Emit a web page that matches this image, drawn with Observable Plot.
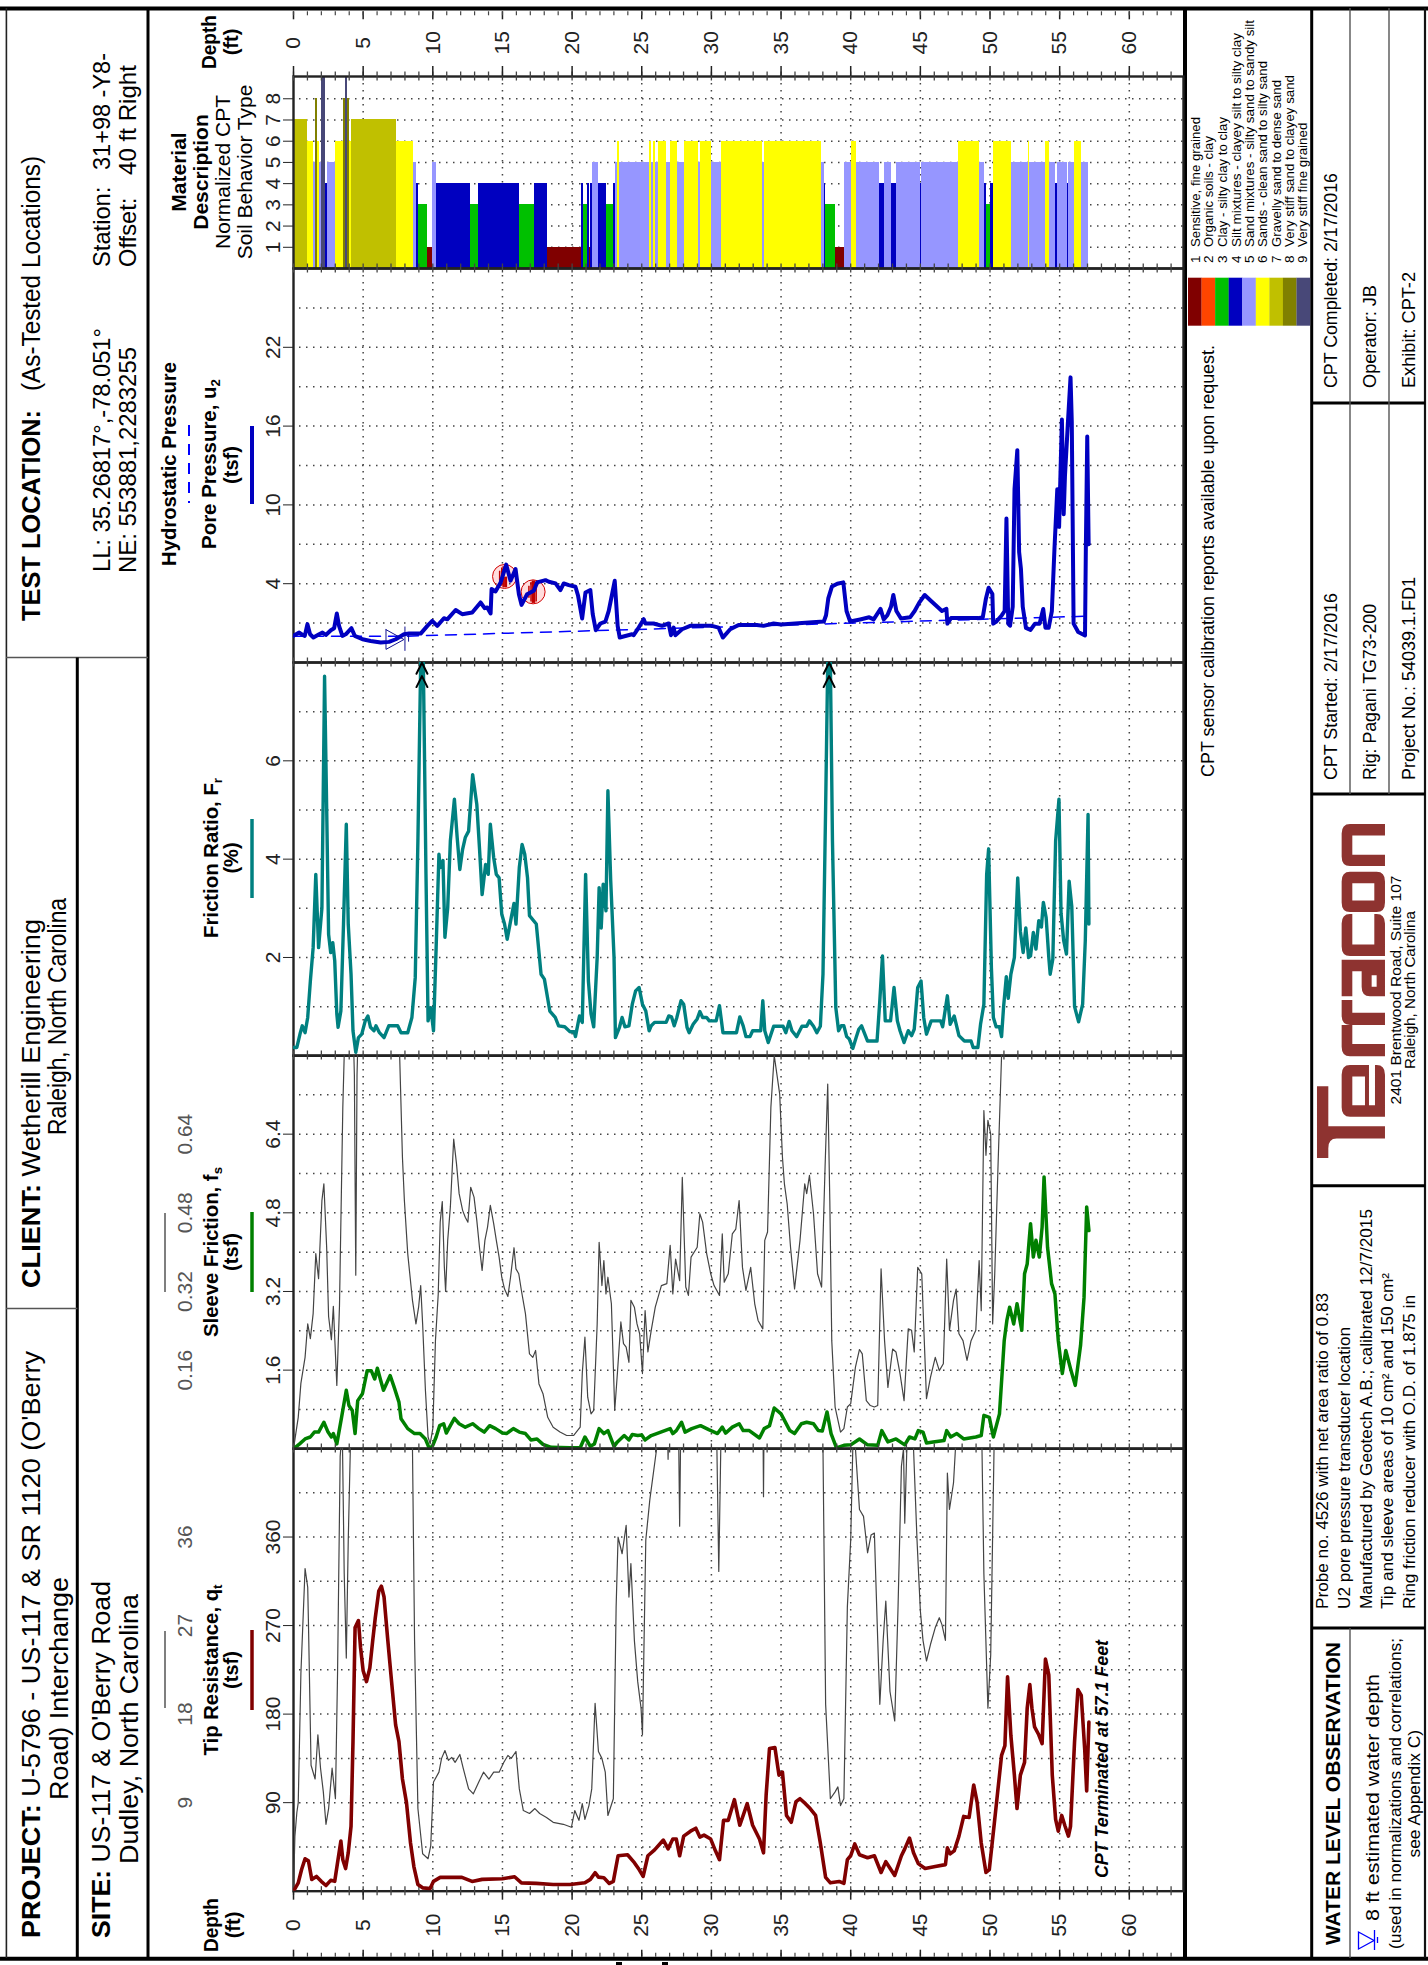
<!DOCTYPE html>
<html><head><meta charset="utf-8">
<script src="https://cdn.jsdelivr.net/npm/d3@7"></script>
<script src="https://cdn.jsdelivr.net/npm/@observablehq/plot@0.6"></script>
<style>
html,body{margin:0;padding:0;background:#fff;}
#page{position:relative;width:1428px;height:1965px;overflow:hidden;font-family:"Liberation Sans",Arial,sans-serif;}
#page svg{position:absolute;left:0;}
</style></head><body><div id="page"></div>
<script>
// ---------- DATA (depth in ft, value in chart units) ----------
const depthDomain=[0,63.89];
const depthMinor=d3.range(0,64);
const depthMajor=d3.range(0,65,5);

const sbtEnd=[1,1.46,1.58,1.74,1.84,2.03,2.29,2.46,3.03,3.61,3.75,3.89,4.04,4.18,7.41,8.63,8.84,8.98,9.63,9.99,10.23,12.71,13.29,16.22,17.3,18.23,20.67,20.81,21.1,21.24,21.31,21.46,21.89,22.46,22.96,23.11,23.25,23.39,25.54,25.69,25.83,25.97,26.19,26.76,27.05,27.55,28.05,29.06,29.2,29.99,30.7,33.64,33.79,37.89,38.11,38.18,38.9,39.54,40.04,40.4,42.05,42.41,42.91,43.27,44.99,45.06,47.71,49.22,49.58,49.72,50.01,50.25,51.51,52.73,52.85,53.95,54.24,54.67,54.88,55.53,55.67,56.03,56.6,57.1];
const sbtType=[7,6,5,8,6,5,9,4,5,6,8,9,8,6,7,6,5,4,3,1,5,4,3,4,3,4,1,4,3,4,1,4,5,4,3,4,5,6,5,6,5,6,5,6,5,6,5,6,5,6,5,6,5,6,5,4,3,1,5,6,5,4,5,4,5,4,5,6,5,4,3,4,6,5,6,5,6,5,4,5,4,5,6,5];
const sbtColors=["#800000","#ff4500","#00c000","#0000c0","#9696ff","#ffff00","#c0c000","#808000","#484878"];
const sbtLabels=["Sensitive, fine grained","Organic soils - clay","Clay - silty clay to clay","Silt mixtures - clayey silt to silty clay","Sand mixtures - silty sand to sandy silt","Sands - clean sand to silty sand","Gravelly sand to dense sand","Very stiff sand to clayey sand","Very stiff fine grained"];

const poreU2=[[0,.03],[.41,.28],[.65,.1],[.81,.03],[1,.92],[1.19,.15],[1.43,-.1],[1.84,.15],[2.08,.28],[2.32,.1],[2.68,.46],[2.92,.61],[3.11,1.73],[3.27,.79],[3.51,.03],[3.75,.15],[4.16,.61],[4.4,.03],[4.95,-.23],[5.54,-.36],[6.26,-.48],[6.86,-.43],[7.34,-.23],[7.93,.15],[8.29,.2],[9.13,.2],[9.61,.79],[9.96,1.17],[10.32,.79],[10.8,1.37],[11.04,1.29],[11.64,2],[12.11,1.68],[12.83,1.81],[13.43,2.57],[13.72,2.14],[13.91,2.19],[14.15,1.73],[14.22,3.59],[14.5,3.41],[14.86,4.07],[15.27,5.45],[15.58,4.23],[15.94,5.11],[16.18,3.2],[16.37,2.39],[16.77,3.2],[17.25,3.46],[17.49,4.1],[18.09,4.27],[18.33,4.15],[18.81,4.02],[19.16,3.51],[19.4,4.02],[19.76,3.89],[20.24,3.77],[20.43,3.08],[20.72,1.35],[20.96,3.33],[21.31,3.51],[21.48,1.68],[21.7,.46],[22.03,.97],[22.39,1.12],[22.63,1.93],[23.06,4.22],[23.27,.79],[23.42,-.1],[24.3,.15],[24.42,.08],[24.78,.66],[25.14,1.3],[25.26,.97],[25.85,.97],[26.45,.79],[26.93,.97],[27.1,.08],[27.29,.66],[27.41,.08],[27.89,.53],[28.48,.79],[29.08,.79],[30.04,.79],[30.51,.66],[30.82,-.1],[31.35,.53],[31.95,.86],[33.26,.86],[33.74,.79],[34.46,.97],[35,.9],[37.25,1.06],[38.07,1.12],[38.23,1.6],[38.39,2.88],[38.65,3.78],[39.04,4],[39.47,4.1],[39.7,1.92],[39.96,1.12],[40.68,1.28],[41.33,1.44],[41.65,1.28],[42.14,2.08],[42.37,1.28],[42.63,1.6],[42.89,2.24],[43.06,3.14],[43.28,1.92],[43.61,1.35],[44.26,1.44],[44.59,1.92],[44.92,2.56],[45.31,3.14],[45.73,2.72],[46.22,2.24],[46.55,1.92],[46.87,2.08],[46.94,.96],[47.2,1.38],[49.16,1.38],[49.48,1.44],[49.71,2.88],[49.9,3.69],[50.17,3.21],[50.23,.96],[50.46,1.12],[50.85,1.6],[51.05,1.92],[51.18,8.97],[51.31,.96],[51.44,.8],[51.63,2.24],[51.76,11.2],[51.96,14.17],[52.09,6.41],[52.22,5.13],[52.35,2.24],[52.58,.64],[52.91,.48],[53.23,.96],[53.56,.96],[53.82,2.08],[53.98,.64],[54.21,.64],[54.44,1.92],[54.63,6.73],[54.83,11.2],[54.96,8.33],[55.16,16.5],[55.29,9.29],[55.38,12.18],[55.58,16.03],[55.78,19.71],[55.87,16.35],[56,.96],[56.33,.32],[56.82,.06],[56.88,6.73],[56.98,15.2],[57.08,7]];
const hydrostatic=[[0,0],[8,0],[57.1,1.53]];
const waterTriangle=[[6.64,.5],[7.93,-.25],[6.64,-1],[6.64,.5]];
const dissipation=[[15.15,4.55],[17.2,3.38]];
const dissipationHatch=[[14.8,4.2,4.95],[14.95,3.8,5.2],[15.05,3.7,5.3],[15.12,3.7,4.5],[15.2,3.7,4.5],[15.28,3.7,4.5],[16.9,2.9,3.8],[17.05,2.6,4.1],[17.15,2.5,4.2],[17.22,2.5,4.2],[17.3,2.5,4.2],[17.42,2.6,4.1]];

const frictionRatio=[[0,.17],[.24,.17],[.49,.47],[.63,.61],[.83,.47],[1.02,.78],[1.21,1.52],[1.41,2.2],[1.6,3.69],[1.8,2.2],[2.04,3.01],[2.23,7.72],[2.38,5.05],[2.52,2.47],[2.67,2.1],[2.82,2.3],[2.96,1.93],[3.11,.85],[3.2,.58],[3.4,.91],[3.59,2.68],[3.79,4.71],[3.93,2.68],[4.13,1.66],[4.27,.51],[4.47,.07],[4.66,.37],[4.9,.44],[5.15,.71],[5.34,.81],[5.53,.58],[5.78,.51],[5.92,.61],[6.17,.47],[6.5,.37],[6.84,.61],[7.48,.61],[7.72,.47],[8.2,.47],[8.5,.78],[8.74,1.59],[8.93,4.37],[9.13,8],[9.32,8],[9.51,3.69],[9.66,.71],[9.85,.98],[10.05,.51],[10.24,2.2],[10.44,4.1],[10.53,3.83],[10.73,3.97],[10.87,2.41],[11.07,3.01],[11.26,4.37],[11.55,5.22],[11.75,4.44],[11.94,3.79],[12.14,4.2],[12.33,4.44],[12.57,4.57],[12.86,5.72],[13.16,5.11],[13.35,4.23],[13.54,3.28],[13.79,3.89],[13.98,3.69],[14.13,4.71],[14.37,4.03],[14.56,3.69],[14.76,3.62],[14.95,2.88],[15.15,2.68],[15.34,2.37],[15.63,2.81],[15.83,3.1],[15.97,2.68],[16.21,3.83],[16.41,4.3],[16.6,4.1],[16.8,3.62],[16.94,2.85],[17.43,2.68],[17.77,1.66],[18.01,1.56],[18.4,.91],[18.79,.78],[19.03,.61],[19.47,.59],[19.85,.49],[20.15,.49],[20.24,.39],[20.53,.81],[20.73,.68],[20.97,3.69],[21.17,1.52],[21.36,.85],[21.55,.59],[21.8,2],[21.94,3.42],[22.09,2.6],[22.23,3.49],[22.43,2.95],[22.57,5.39],[22.77,3.57],[23.01,2],[23.11,.37],[23.4,.58],[23.59,.78],[23.79,.59],[24.08,.61],[24.32,1.05],[24.56,1.32],[24.81,1.39],[25.05,1.05],[25.29,.91],[25.53,.51],[25.68,.61],[25.92,.68],[26.75,.68],[26.94,.81],[27.14,.79],[27.33,.61],[27.52,.78],[27.82,1.12],[28.01,1.05],[28.25,.58],[28.4,.47],[28.69,.64],[28.98,.75],[29.17,.9],[29.37,.78],[29.66,.78],[29.85,.71],[30.34,.71],[30.58,1.02],[30.83,.47],[31.8,.47],[32.04,.79],[32.28,.61],[32.48,.39],[32.77,.39],[32.96,.51],[33.54,.51],[33.69,1.12],[33.83,.51],[34.08,.27],[34.47,.6],[35.15,.6],[35.34,.47],[35.58,.7],[35.78,.51],[36.12,.39],[36.5,.6],[36.84,.6],[37.04,.71],[37.33,.6],[37.57,.47],[37.82,.6],[38.01,1.66],[38.2,5.05],[38.35,8],[38.54,8],[38.69,4.37],[38.93,.98],[39.13,.51],[39.32,.61],[39.51,.61],[39.71,.39],[39.9,.34],[40.15,.15],[40.39,.37],[40.58,.54],[40.78,.61],[40.97,.47],[41.21,.3],[41.89,.3],[42.09,1.12],[42.28,2.03],[42.48,.71],[42.86,.71],[43.11,1.39],[43.35,.71],[43.54,.51],[43.83,.27],[44.13,.51],[44.37,.41],[44.56,.54],[44.81,1.39],[45.05,1.52],[45.24,.78],[45.44,.44],[45.78,.71],[46.46,.71],[46.6,.59],[46.94,1.22],[47.14,.64],[47.43,.81],[47.77,.41],[48.16,.3],[48.64,.3],[48.79,.17],[49.13,.17],[49.32,.64],[49.56,1.05],[49.76,3.69],[49.9,4.21],[50.1,1.79],[50.24,.78],[50.44,.59],[50.68,.59],[50.83,.39],[50.97,.98],[51.17,1.61],[51.31,1.17],[51.5,1.66],[51.75,2],[51.99,3.62],[52.18,2.53],[52.38,2.1],[52.57,2.6],[52.77,2],[52.91,2.03],[53.11,2.51],[53.3,2.17],[53.5,2.75],[53.69,2.62],[53.83,3.12],[54.03,2.81],[54.22,2],[54.32,1.66],[54.51,1.97],[54.71,4.37],[54.95,5.22],[55.1,2.9],[55.29,2.34],[55.49,2.07],[55.68,3.55],[55.87,3.04],[56.07,1],[56.36,.69],[56.65,1.05],[56.84,2.34],[57.04,4.91],[57.1,2.68]];
const offScaleDepths=[9.22,38.45];

const sleeveFs=[[0,0],[.44,.1],[.83,.2],[1.21,.24],[1.5,.34],[1.8,.34],[2.18,.54],[2.48,.34],[2.72,.24],[2.86,.31],[3.11,.1],[3.45,.64],[3.79,1.19],[3.98,.88],[4.22,.78],[4.42,.31],[4.61,.98],[4.95,1.12],[5.29,1.59],[5.58,1.59],[5.83,1.42],[6.02,1.64],[6.26,1.39],[6.46,1.19],[6.94,1.49],[7.23,1.25],[7.57,.95],[7.72,.61],[8.2,.41],[8.69,.31],[9.08,.31],[9.47,.2],[9.76,0],[10,.07],[10.24,.24],[10.49,.47],[10.78,.51],[10.97,.32],[11.26,.47],[11.55,.62],[11.89,.51],[12.33,.44],[12.86,.51],[13.3,.41],[13.69,.34],[14.08,.47],[14.51,.41],[15,.32],[15.29,.31],[15.78,.41],[16.21,.34],[16.65,.31],[17.04,.18],[17.48,.2],[17.91,.09],[18.5,.03],[19.85,.02],[20.58,.02],[20.92,.24],[21.31,.05],[21.6,.1],[21.94,.41],[22.28,.31],[22.57,.37],[23.01,.05],[23.25,.14],[23.74,.27],[24.08,.18],[24.32,.29],[24.71,.27],[25,.28],[25.24,.18],[25.68,.27],[26.17,.32],[27.04,.41],[27.23,.31],[27.48,.37],[27.86,.54],[28.11,.34],[28.59,.41],[29.22,.47],[29.81,.39],[30.44,.31],[30.78,.44],[31.02,.32],[31.5,.44],[31.99,.51],[32.28,.37],[32.72,.37],[33.45,.22],[33.79,.41],[34.17,.47],[34.51,.83],[35,.71],[35.63,.37],[35.97,.31],[36.46,.51],[36.84,.54],[37.33,.51],[37.67,.37],[37.96,.36],[38.3,.75],[38.59,.31],[38.98,.02],[39.51,.07],[40,.08],[40.63,.2],[41.21,.08],[41.94,.07],[42.23,.37],[42.67,.14],[43.25,.2],[43.88,.08],[44.22,.24],[44.61,.2],[44.85,.37],[45.19,.34],[45.44,.12],[45.92,.14],[46.7,.17],[46.89,.37],[47.18,.24],[47.62,.31],[48.11,.2],[48.98,.24],[49.37,.27],[49.56,.68],[49.95,.64],[50.24,.24],[50.68,.71],[51.02,2.2],[51.21,2.61],[51.41,2.88],[51.7,2.54],[51.94,2.95],[52.28,2.41],[52.48,3.56],[52.67,3.76],[52.91,4.58],[53.11,3.9],[53.3,4.24],[53.54,3.9],[53.74,4.51],[53.88,5.53],[54.13,4.1],[54.42,3.36],[54.66,3.15],[54.9,2.2],[55.19,1.53],[55.44,2],[55.78,1.63],[56.12,1.29],[56.5,2.1],[56.75,3.08],[56.94,4.92],[57.1,4.44]];
const sleeveFine=[[0,0],[.34,.064],[.53,.133],[.83,.186],[1.02,.254],[1.21,.224],[1.41,.275],[1.6,.397],[1.8,.346],[2.04,.505],[2.18,.539],[2.38,.41],[2.52,.269],[2.72,.222],[2.86,.29],[3.11,.129],[3.3,.29],[3.54,.695],[3.64,.8],[3.83,.87],[4.27,.87],[4.37,.76],[4.47,.353],[4.56,.76],[4.66,.87],[7.48,.87],[7.62,.8],[7.82,.593],[7.96,.505],[8.2,.397],[8.54,.302],[8.79,.254],[8.98,.288],[9.13,.332],[9.27,.254],[9.47,.119],[9.66,.024],[9.81,.01],[10,.041],[10.19,.22],[10.39,.315],[10.53,.461],[10.68,.503],[10.83,.369],[10.92,.32],[11.07,.424],[11.26,.492],[11.5,.63],[11.7,.58],[11.89,.519],[12.14,.485],[12.33,.471],[12.52,.461],[12.72,.532],[12.96,.512],[13.16,.464],[13.35,.41],[13.54,.363],[13.74,.424],[13.93,.451],[14.13,.495],[14.37,.458],[14.56,.424],[14.76,.39],[14.95,.349],[15.15,.325],[15.39,.31],[15.58,.349],[15.83,.409],[15.97,.366],[16.17,.356],[16.36,.322],[16.65,.275],[16.94,.193],[17.18,.186],[17.38,.2],[17.62,.132],[17.91,.112],[18.25,.064],[18.64,.044],[19.13,.034],[19.61,.027],[20.1,.027],[20.58,.044],[20.73,.153],[20.92,.227],[21.12,.105],[21.36,.071],[21.55,.078],[21.8,.254],[21.94,.42],[22.14,.332],[22.28,.383],[22.43,.315],[22.57,.349],[22.82,.295],[23.06,.078],[23.25,.153],[23.5,.258],[23.69,.214],[23.88,.207],[24.08,.176],[24.22,.302],[24.47,.288],[24.66,.254],[24.85,.234],[25.05,.153],[25.24,.281],[25.44,.197],[25.68,.241],[25.97,.288],[26.41,.332],[26.8,.336],[27.04,.414],[27.23,.315],[27.43,.386],[27.72,.342],[27.91,.552],[28.16,.329],[28.35,.312],[28.54,.39],[28.98,.41],[29.17,.478],[29.37,.461],[29.66,.397],[29.95,.356],[30.19,.332],[30.58,.312],[30.78,.437],[30.92,.339],[31.21,.356],[31.5,.437],[31.75,.447],[31.99,.505],[32.23,.369],[32.48,.322],[32.82,.369],[33.11,.295],[33.35,.261],[33.69,.244],[33.83,.424],[34.03,.441],[34.27,.695],[34.51,.8],[34.9,.722],[35.1,.593],[35.24,.539],[35.44,.498],[35.68,.41],[35.97,.325],[36.36,.424],[36.7,.539],[36.84,.519],[37.04,.556],[37.33,.478],[37.62,.356],[37.91,.329],[38.16,.573],[38.35,.742],[38.5,.505],[38.64,.22],[38.88,.085],[39.27,.034],[39.51,.041],[39.76,.085],[40,.092],[40.34,.166],[40.63,.202],[40.83,.193],[41.12,.098],[41.41,.088],[41.7,.085],[41.94,.088],[42.18,.366],[42.43,.22],[42.67,.125],[43.01,.203],[43.25,.197],[43.54,.153],[43.83,.098],[44.13,.244],[44.37,.241],[44.56,.197],[44.81,.369],[45.1,.356],[45.44,.102],[45.73,.146],[46.07,.186],[46.36,.159],[46.65,.173],[46.89,.386],[47.09,.241],[47.38,.302],[47.57,.325],[47.77,.234],[48.06,.22],[48.35,.18],[48.64,.22],[48.98,.241],[49.22,.383],[49.37,.281],[49.56,.688],[49.71,.597],[49.85,.668],[50.05,.64],[50.19,.254],[50.34,.356],[50.58,.58],[50.83,.8],[51.02,.87]];

const tipQt=[[0,0],[.34,8.5],[.58,22],[.83,33],[1.07,31],[1.31,12],[1.65,15],[1.99,10],[2.33,5.8],[2.67,11],[2.96,10],[3.16,29],[3.4,51],[3.54,32],[3.74,23],[3.93,39],[4.13,66],[4.27,152],[4.42,268],[4.66,275],[4.81,248],[5,224],[5.24,213],[5.48,227],[5.68,254],[5.87,278],[6.12,305],[6.31,310],[6.5,299],[6.75,258],[7.04,213],[7.33,169],[7.57,152],[7.82,114],[8.11,90],[8.4,49],[8.64,25],[8.93,6.8],[9.27,3.4],[9.81,2.7],[10.05,10],[10.53,14],[11.36,14],[12.09,14],[12.82,9.9],[13.54,12],[15,12.6],[15.87,14.7],[16.36,8.5],[17.43,7.9],[18.64,6.8],[19.85,6.8],[20.92,8.5],[21.31,12],[21.65,18.8],[21.89,14.3],[22.28,13.7],[22.67,7.9],[22.96,10],[23.3,36],[23.98,37],[24.47,29],[24.81,22],[25.1,15],[25.44,36],[25.92,42],[26.55,52],[26.89,43],[27.23,53],[27.48,53],[27.72,36],[28.01,56],[28.5,61],[28.88,64],[29.17,55],[29.47,57],[29.95,53],[30.29,41],[30.58,32],[30.87,72],[31.21,72],[31.65,93],[32.04,67],[32.57,89],[32.96,67],[33.45,53],[33.74,39],[33.93,98],[34.17,145],[34.56,146],[34.85,118],[35.1,121],[35.39,77],[35.73,70],[36.07,91],[36.36,94],[36.75,89],[37.09,84],[37.48,77],[37.82,49],[38.2,14],[38.54,8.5],[39.17,9.9],[39.51,7.9],[39.76,32],[40,36],[40.29,48],[40.63,37],[41.21,34],[41.7,36],[42.18,19],[42.52,30],[43.16,16],[43.64,36],[43.88,43],[44.22,54],[44.51,39],[44.85,28],[45.34,23],[46.07,25],[46.8,27],[46.94,44],[47.14,38],[47.43,41],[47.77,56],[48.11,76],[48.5,75],[48.83,108],[49.08,90],[49.37,49],[49.71,19],[49.95,22],[50.34,73],[50.68,118],[50.83,138],[51.07,148],[51.26,218],[51.5,158],[51.75,118],[51.94,84],[52.18,118],[52.48,131],[52.67,186],[52.86,210],[53.01,186],[53.2,167],[53.5,159],[53.74,150],[53.98,236],[54.22,220],[54.47,118],[54.71,73],[54.9,61],[55.15,77],[55.39,66],[55.63,56],[55.78,66],[56.07,152],[56.31,205],[56.55,199],[56.8,144],[56.94,102],[57.1,172]];
const tipFine=[[0,0],[.1,5.6],[.24,8],[.34,9],[.53,22.1],[.83,32.8],[1.02,30.9],[1.07,27.5],[1.26,12.8],[1.55,11.4],[1.75,15.9],[1.94,12.5],[2.14,10.1],[2.33,6.8],[2.52,8.4],[2.77,12.5],[3.01,9.4],[3.16,22],[3.35,44.2],[3.5,47],[3.64,32.3],[3.79,23.7],[3.93,35.7],[4.08,45],[4.22,50],[8.45,50],[8.54,45],[8.69,25.5],[8.93,8.4],[9.27,3.8],[9.66,3.3],[9.85,4.6],[10.05,11.1],[10.44,12.1],[10.63,13.5],[10.87,14.3],[11.12,13.3],[11.36,13.6],[11.6,13.1],[11.94,13.9],[12.18,12.5],[12.57,10.4],[12.91,9.9],[13.3,11.1],[13.64,12.1],[14.03,11.4],[14.37,12.1],[14.76,12.1],[15.1,13.1],[15.39,13.8],[15.63,13.5],[15.97,14.2],[16.21,10.4],[16.5,8.2],[16.94,7.9],[17.33,8.4],[17.67,7.9],[18.16,7.5],[18.64,7],[19.37,6.8],[19.95,6.5],[20.19,8.2],[20.49,7.2],[20.73,8.9],[20.92,7.3],[21.21,8.7],[21.41,10.4],[21.65,19.1],[21.89,14.2],[22.14,13.5],[22.38,12.1],[22.57,7.7],[22.96,9.4],[23.16,28.9],[23.3,36],[23.59,34.3],[23.88,37.2],[24.08,29.9],[24.22,33.3],[24.47,25.5],[24.71,21.3],[24.95,18.6],[25.05,15.9],[25.29,35.7],[25.58,39.8],[26.07,45],[26.41,50],[26.8,50],[26.89,43.9],[26.99,50],[27.62,50],[27.72,37.1],[27.82,50],[30.34,50],[30.53,32.5],[30.73,50],[33.69,50],[33.74,40.1],[33.79,50],[37.91,50],[38.01,45],[38.2,19],[38.54,9.4],[38.88,10.1],[39.08,10.6],[39.27,8.7],[39.51,9.4],[39.76,28.9],[40,35.7],[40.15,45],[40.25,50],[40.34,45],[40.63,38.8],[40.92,38.1],[41.21,34.4],[41.46,36.2],[41.7,36.4],[41.94,25.5],[42.09,19],[42.33,25.5],[42.52,29.5],[42.82,20.3],[43.16,17.3],[43.4,29],[43.64,43.2],[43.79,45],[43.88,37.4],[44.03,45],[44.1,50],[44.4,50],[44.51,45],[44.76,35.7],[45,28.5],[45.19,25.5],[45.44,23.4],[45.73,25.1],[46.07,26.8],[46.36,27.8],[46.55,27.1],[46.8,25.5],[46.94,42.5],[47.09,38.8],[47.38,41.5],[47.52,45],[47.6,50],[49.37,50],[49.56,32.3],[49.85,18.6],[50.05,24],[50.29,45],[50.44,50]];

// ---------- helpers ----------
const page=d3.select("#page");
const font='"Liberation Sans",Arial,sans-serif';
const W=1428, LEFT=293, RIGHT=1183;
const GRID="#444", TICK="#444";

// overlay with the sheet's frame and title-block text (all rotated -90 like the original)
const ov=page.append("svg").attr("width",W).attr("height",1965).style("top","0").style("font-family",font);
function L(x1,y1,x2,y2,w,c="#000",dash){const l=ov.append("line").attr("x1",x1).attr("y1",y1).attr("x2",x2).attr("y2",y2).attr("stroke",c).attr("stroke-width",w);if(dash)l.attr("stroke-dasharray",dash);return l;}
function T(parts,x,y,size,o={}){
  const t=ov.append("text").attr("transform",`translate(${x},${y}) rotate(-90)`).attr("font-size",size).attr("fill",o.fill||"#000").attr("text-anchor",o.anchor||"start");
  if(o.bold)t.attr("font-weight","bold"); if(o.italic)t.attr("font-style","italic");
  if(o.len)t.attr("textLength",o.len).attr("lengthAdjust","spacingAndGlyphs");
  (Array.isArray(parts)?parts:[[parts,{}]]).forEach(([s,p])=>{
    const ts=t.append("tspan").text(s);
    if(p.bold)ts.attr("font-weight","bold"); if(p.normal)ts.attr("font-weight","normal");
    if(p.dy)ts.attr("dy",p.dy); if(p.size)ts.attr("font-size",p.size);
  });
  return t;
}
// frame
L(0,8.4,W,8.4,4); L(0,1958.7,W,1958.7,4);
L(6.4,8,6.4,1958,1.6,"#222"); L(148,8,148,1958,3); L(1185,8,1185,1958,4); L(1311.7,8,1311.7,1958,3); L(1425,8,1425,1958,2.2,"#111");
L(6,657.5,148,657.5,1.4,"#555"); L(77.3,657.5,77.3,1958,3); L(6,1308.5,77.3,1308.5,1.4,"#555");
L(1312,403,1425,403,3); L(1312,794,1425,794,3); L(1312,1185.7,1425,1185.7,3); L(1312,1628,1425,1628,3);
L(1350,8,1350,794,1.4,"#555"); L(1389,8,1389,794,1.4,"#555"); L(1350,1628,1350,1958,1.4,"#555");
ov.append("rect").attr("x",616).attr("y",1962).attr("width",6).attr("height",3);
ov.append("rect").attr("x",662).attr("y",1962).attr("width",6).attr("height",3);

// left title block
T("TEST LOCATION:",40,621,25.4,{bold:1,len:211});
T("(As-Tested Locations)",40,391,25.4,{len:235});
T("LL: 35.26817°,-78.051°",110,572,23.7,{len:244});
T("NE: 553881,2283255",136,573,23.7,{len:226});
T("Station:",110,267,23.7); T("31+98 -Y8-",110,170,23.7,{len:117});
T("Offset:",136,267,23.7); T("40 ft Right",136,175,23.7,{len:110});
T([["CLIENT:",{bold:1}],[" Wetherill Engineering",{}]],40,1288,25,{len:369});
T("Raleigh, North Carolina",66,1135,25,{len:237});
T([["PROJECT:",{bold:1}],[" U-5796 - US-117 & SR 1120 (O'Berry",{}]],40,1938,25.4,{len:587});
T("Road) Interchange",68,1800,25.4,{len:223});
T([["SITE:",{bold:1}],[" US-117 & O'Berry Road",{}]],110,1938,25.4,{len:357});
T("Dudley, North Carolina",138,1864,25.4,{len:270});

// panel titles
T("Depth",216,42,20,{bold:1,anchor:"middle",len:54}); T("(ft)",238,42,20,{bold:1,anchor:"middle"});
T("Material",186,172,21,{bold:1,anchor:"middle"}); T("Description",208,172,21,{bold:1,anchor:"middle"});
T("Normalized CPT",230,172,21,{anchor:"middle"}); T("Soil Behavior Type",252,172,21,{anchor:"middle"});
T("Hydrostatic Pressure",176,464,20,{bold:1,anchor:"middle",len:204});
L(189,425,189,503,2,"#0000ff","11 8");
T([["Pore Pressure, u",{}],["2",{dy:4,size:13}]],216,464,20,{bold:1,anchor:"middle",len:170});
T("(tsf)",238,465,20,{bold:1,anchor:"middle"});
L(252,426,252,504,4,"#0000c0");
T([["Friction Ratio, F",{}],["r",{dy:4,size:13}]],218,858,20,{bold:1,anchor:"middle",len:160});
T("(%)",238,858,20,{bold:1,anchor:"middle"});
L(252,819,252,898,3.5,"#008080");
T([["Sleeve Friction, f",{}],["s",{dy:4,size:13}]],218,1252,20,{bold:1,anchor:"middle",len:170});
T("(tsf)",238,1252,20,{bold:1,anchor:"middle"});
L(252,1212,252,1292,3.5,"#008000"); L(165,1213,165,1292,1.5,"#555");
T([["Tip Resistance, q",{}],["t",{dy:4,size:13}]],218,1670,20,{bold:1,anchor:"middle",len:171});
T("(tsf)",238,1670,20,{bold:1,anchor:"middle"});
L(252,1630,252,1710,3.5,"#800000"); L(165,1631,165,1708,1.5,"#555");
T("Depth",218,1925,20,{bold:1,anchor:"middle",len:54}); T("(ft)",240,1925,20,{bold:1,anchor:"middle"});
T("CPT Terminated at 57.1 Feet",1108,1878,17.5,{bold:1,italic:1,len:238});

// right side
T("CPT sensor calibration reports available upon request.",1214,777,18,{len:432});
sbtColors.forEach((c,i)=>ov.append("rect").attr("x",1188+i*13.56).attr("y",277.7).attr("width",13.7).attr("height",48).attr("fill",c));
const legendBase=[1200,1213.3,1226.7,1240.7,1254,1267,1280.7,1294,1307];
const legendEnd=[117,136,117,33,20,61,80,75,122.7];
sbtLabels.forEach((s,i)=>{T(String(i+1),legendBase[i],263,13.5);T(s,legendBase[i],247,13.5,{len:247-legendEnd[i]});});
T("CPT Completed: 2/17/2016",1337,388,18.5,{len:215});
T("Operator: JB",1376,388,18.5,{len:103});
T("Exhibit: CPT-2",1415,388,18.5,{len:116});
T("CPT Started: 2/17/2016",1337,780,18.5,{len:187});
T("Rig: Pagani TG73-200",1376,780,18.5,{len:176});
T("Project No.:  54039.1.FD1",1415,780,18.5,{len:203});

// Terracon logo, drawn in the title block
const lg=ov.append("g").attr("transform","translate(1170,780) scale(0.3333,0.3827)").attr("fill","#8e3330").attr("fill-rule","evenodd");
lg.append("path").attr("d",[
 "M441 800H475V905H645V937H500Q475 937 475 962V988H441Z",
 "M645 880H540Q515 880 515 855V770Q515 745 540 745H620Q645 745 645 770V880Z M547 850H585V775H547Z M597 850H615V745H597Z",
 "M645 722H540Q515 722 515 697V640H547V690H645Z",
 "M645 640H540Q515 640 515 615V575H547V608H645Z",
 "M515 470V565H547V500H645V470Z M575 500H645V565H600Q575 565 575 540Z M605 510H620V540H605Z",
 "M645 460H540Q515 460 515 435V375Q515 350 540 350H547V430H613V350H620Q645 350 645 375Z",
 "M540 240H620Q645 240 645 265V320Q645 345 620 345H540Q515 345 515 320V265Q515 240 540 240ZM547 270V315H613V270Z",
 "M645 225H540Q515 225 515 200V140Q515 115 540 115H645V145H547V195H645Z"
].join(" "));
T("2401 Brentwood Road, Suite 107",1400.7,1104.5,15.5,{len:229});
T("Raleigh, North Carolina",1415,1069,15.5,{len:158});

T("Probe no. 4526 with net area ratio of 0.83",1328,1609,16.5,{len:316});
T("U2 pore pressure transducer location",1350,1609,16.5,{len:282});
T("Manufactured by Geotech A.B.; calibrated 12/7/2015",1372,1609,16.5,{len:400});
T("Tip and sleeve areas of 10 cm² and 150 cm²",1393,1609,16.5,{len:336});
T("Ring friction reducer with O.D. of 1.875 in",1415,1609,16.5,{len:314});

T("WATER LEVEL OBSERVATION",1340,1945,20,{bold:1,len:303});
ov.append("path").attr("d","M1358.5 1932L1374 1940.5L1358.5 1949Z").attr("fill","none").attr("stroke","#0000ff").attr("stroke-width",1.3);
L(1374.5,1930,1374.5,1950,1.3,"#0000ff"); L(1377.5,1937,1377.5,1943,1.3,"#0000ff");
T("8 ft estimated water depth",1379,1921,19,{len:247});
T("(used in normalizations and correlations;",1401,1949,17,{len:311});
T("see Appendix C)",1420,1857.5,17,{len:127.5});

// ---------- Plot panels ----------
function panel(top,bottom,yDomain,marks,mt=10,mb=10){
  const p=Plot.plot({width:W,height:bottom-top+mt+mb,marginLeft:LEFT,marginRight:W-RIGHT,marginTop:mt,marginBottom:mb,
    x:{domain:depthDomain,axis:null},y:{domain:yDomain,axis:null},
    color:{type:"ordinal",domain:d3.range(1,10),range:sbtColors},
    style:{background:"transparent",overflow:"visible",fontFamily:font,fontSize:"21px",color:"#000"},marks});
  p.style.top=(top-mt)+"px"; page.node().append(p);
}
const gridV=()=>Plot.ruleX(depthMajor.slice(1),{stroke:GRID,strokeWidth:1.5,strokeDasharray:"1.5 5.5"});
const gridH=v=>Plot.ruleY(v,{stroke:GRID,strokeWidth:1.5,strokeDasharray:"1.5 5.5",insetLeft:6});
const valueAxis=t=>Plot.axisY(t,{tickSize:10,tickPadding:4,tickRotate:-90,label:null,tickFormat:d=>String(d),stroke:"#222",fill:"#222"});
const borderTicks=(H)=>[
  Plot.ruleX(depthMinor,{stroke:TICK,strokeWidth:1.3,insetTop:-4.5,insetBottom:H-4.5}),
];
const xy={x:d=>d[0],y:d=>d[1]};
const chevron={draw(c,l){c.moveTo(-5.5,0);c.lineTo(0,-l);c.lineTo(5.5,0);}};

// Material / SBT panel (holds the top depth scale)
const sbtTop=75.7, sbtBottom=267.7, sbtH=sbtBottom-sbtTop;
const sbtRows=sbtEnd.map((e,i)=>({x1:i?sbtEnd[i-1]:0,x2:e,type:sbtType[i]}));
panel(sbtTop,sbtBottom,[0,9.05],[
  gridV(),gridH(d3.range(1,9)),
  Plot.rectY(sbtRows,{x1:"x1",x2:"x2",y1:0,y2:"type",fill:"type",shapeRendering:"crispEdges"}),
  valueAxis(d3.range(1,9)),
  Plot.frame({stroke:"#222",strokeWidth:2.4}),
  ...borderTicks(sbtH),
  Plot.ruleX(depthMajor,{stroke:"#222",strokeWidth:1.5,insetTop:-10,insetBottom:sbtH}),
  Plot.ruleX(depthMajor,{stroke:"#222",strokeWidth:1.5,insetTop:-64.7,insetBottom:sbtH+56.7}),
  Plot.ruleX(depthMinor,{stroke:TICK,strokeWidth:1.2,insetTop:-64.7,insetBottom:sbtH+60.7}),
  Plot.axisX(depthMajor,{anchor:"top",tickSize:0,tickPadding:33.7,tickRotate:-90,textAnchor:"middle",lineAnchor:"middle",label:null,tickFormat:d=>String(d),fill:"#222"})
],68,10);

// Pore pressure
const poreTop=267.7, poreBottom=661.7, poreH=poreBottom-poreTop;
panel(poreTop,poreBottom,[-2,28],[
  gridV(),gridH(d3.range(-2+3,28,3)),
  valueAxis([4,10,16,22]),
  Plot.frame({stroke:"#222",strokeWidth:2.4}),
  ...borderTicks(poreH),
  Plot.line(hydrostatic,{...xy,stroke:"#0000ff",strokeWidth:1.5,strokeDasharray:"11 8"}),
  Plot.line(waterTriangle,{...xy,stroke:"#101090",strokeWidth:1}),
  Plot.ruleX([8],{y1:.7,y2:-1.15,stroke:"#101090",strokeWidth:1}),
  Plot.ruleX([8.26],{y1:.2,y2:-.45,stroke:"#101090",strokeWidth:1}),
  Plot.dot(dissipation,{...xy,r:12,stroke:"#d00000",fill:"#ff000022",strokeWidth:1}),
  Plot.ruleX(dissipationHatch,{x:d=>d[0],y1:d=>d[1],y2:d=>d[2],stroke:"#c00000",strokeWidth:1.5}),
  Plot.line(poreU2,{...xy,stroke:"#0000c0",strokeWidth:4,clip:true})
]);

// Friction ratio
const frTop=661.7, frBottom=1055, frH=frBottom-frTop;
panel(frTop,frBottom,[0,8],[
  gridV(),gridH(d3.range(1,8)),
  valueAxis([2,4,6]),
  Plot.frame({stroke:"#222",strokeWidth:2.4}),
  ...borderTicks(frH),
  Plot.line(frictionRatio,{...xy,stroke:"#008080",strokeWidth:3.4,clip:true}),
  Plot.vector(offScaleDepths,{x:d=>d,y:7.77,length:11,anchor:"start",shape:chevron,stroke:"#000",strokeWidth:2}),
  Plot.vector(offScaleDepths,{x:d=>d,y:7.5,length:11,anchor:"start",shape:chevron,stroke:"#000",strokeWidth:2})
]);

// Sleeve friction
const fsTop=1055, fsBottom=1448.3, fsH=fsBottom-fsTop;
const fsTicks=[1.6,3.2,4.8,6.4];
panel(fsTop,fsBottom,[0,8],[
  gridV(),gridH(d3.range(.8,8,.8)),
  valueAxis(fsTicks),
  Plot.axisY(fsTicks,{tickSize:0,tickPadding:102,tickRotate:-90,label:null,tickFormat:d=>(d/10).toFixed(2),fill:"#555"}),
  Plot.frame({stroke:"#222",strokeWidth:2.4}),
  ...borderTicks(fsH),
  Plot.line(sleeveFine,{x:d=>d[0],y:d=>d[1]*10,stroke:"#444",strokeWidth:1.2,clip:true}),
  Plot.line(sleeveFs,{...xy,stroke:"#008000",strokeWidth:3.5,clip:true})
]);

// Tip resistance (holds the bottom depth scale)
const qtTop=1448.3, qtBottom=1891, qtH=qtBottom-qtTop;
const qtTicks=[90,180,270,360];
panel(qtTop,qtBottom,[0,450],[
  gridV(),gridH(d3.range(45,450,45)),
  valueAxis(qtTicks),
  Plot.axisY(qtTicks,{tickSize:0,tickPadding:102,tickRotate:-90,label:null,tickFormat:d=>String(d/10),fill:"#555"}),
  Plot.frame({stroke:"#222",strokeWidth:2.4}),
  ...borderTicks(qtH),
  Plot.ruleX(depthMinor,{stroke:TICK,strokeWidth:1.3,insetTop:qtH-4.5,insetBottom:-4.5}),
  Plot.ruleX(depthMajor,{stroke:"#222",strokeWidth:1.5,insetTop:qtH,insetBottom:-9}),
  Plot.ruleX(depthMinor,{stroke:TICK,strokeWidth:1.2,insetTop:qtH+62,insetBottom:-66}),
  Plot.ruleX(depthMajor,{stroke:"#222",strokeWidth:1.5,insetTop:qtH+59,insetBottom:-66}),
  Plot.line(tipFine,{x:d=>d[0],y:d=>d[1]*10,stroke:"#444",strokeWidth:1.2,clip:true}),
  Plot.line(tipQt,{...xy,stroke:"#800000",strokeWidth:3.6,clip:true}),
  Plot.axisX(depthMajor,{anchor:"bottom",tickSize:0,tickPadding:34,tickRotate:-90,textAnchor:"middle",lineAnchor:"middle",label:null,tickFormat:d=>String(d),fill:"#222"})
],10,67);
</script></body></html>
